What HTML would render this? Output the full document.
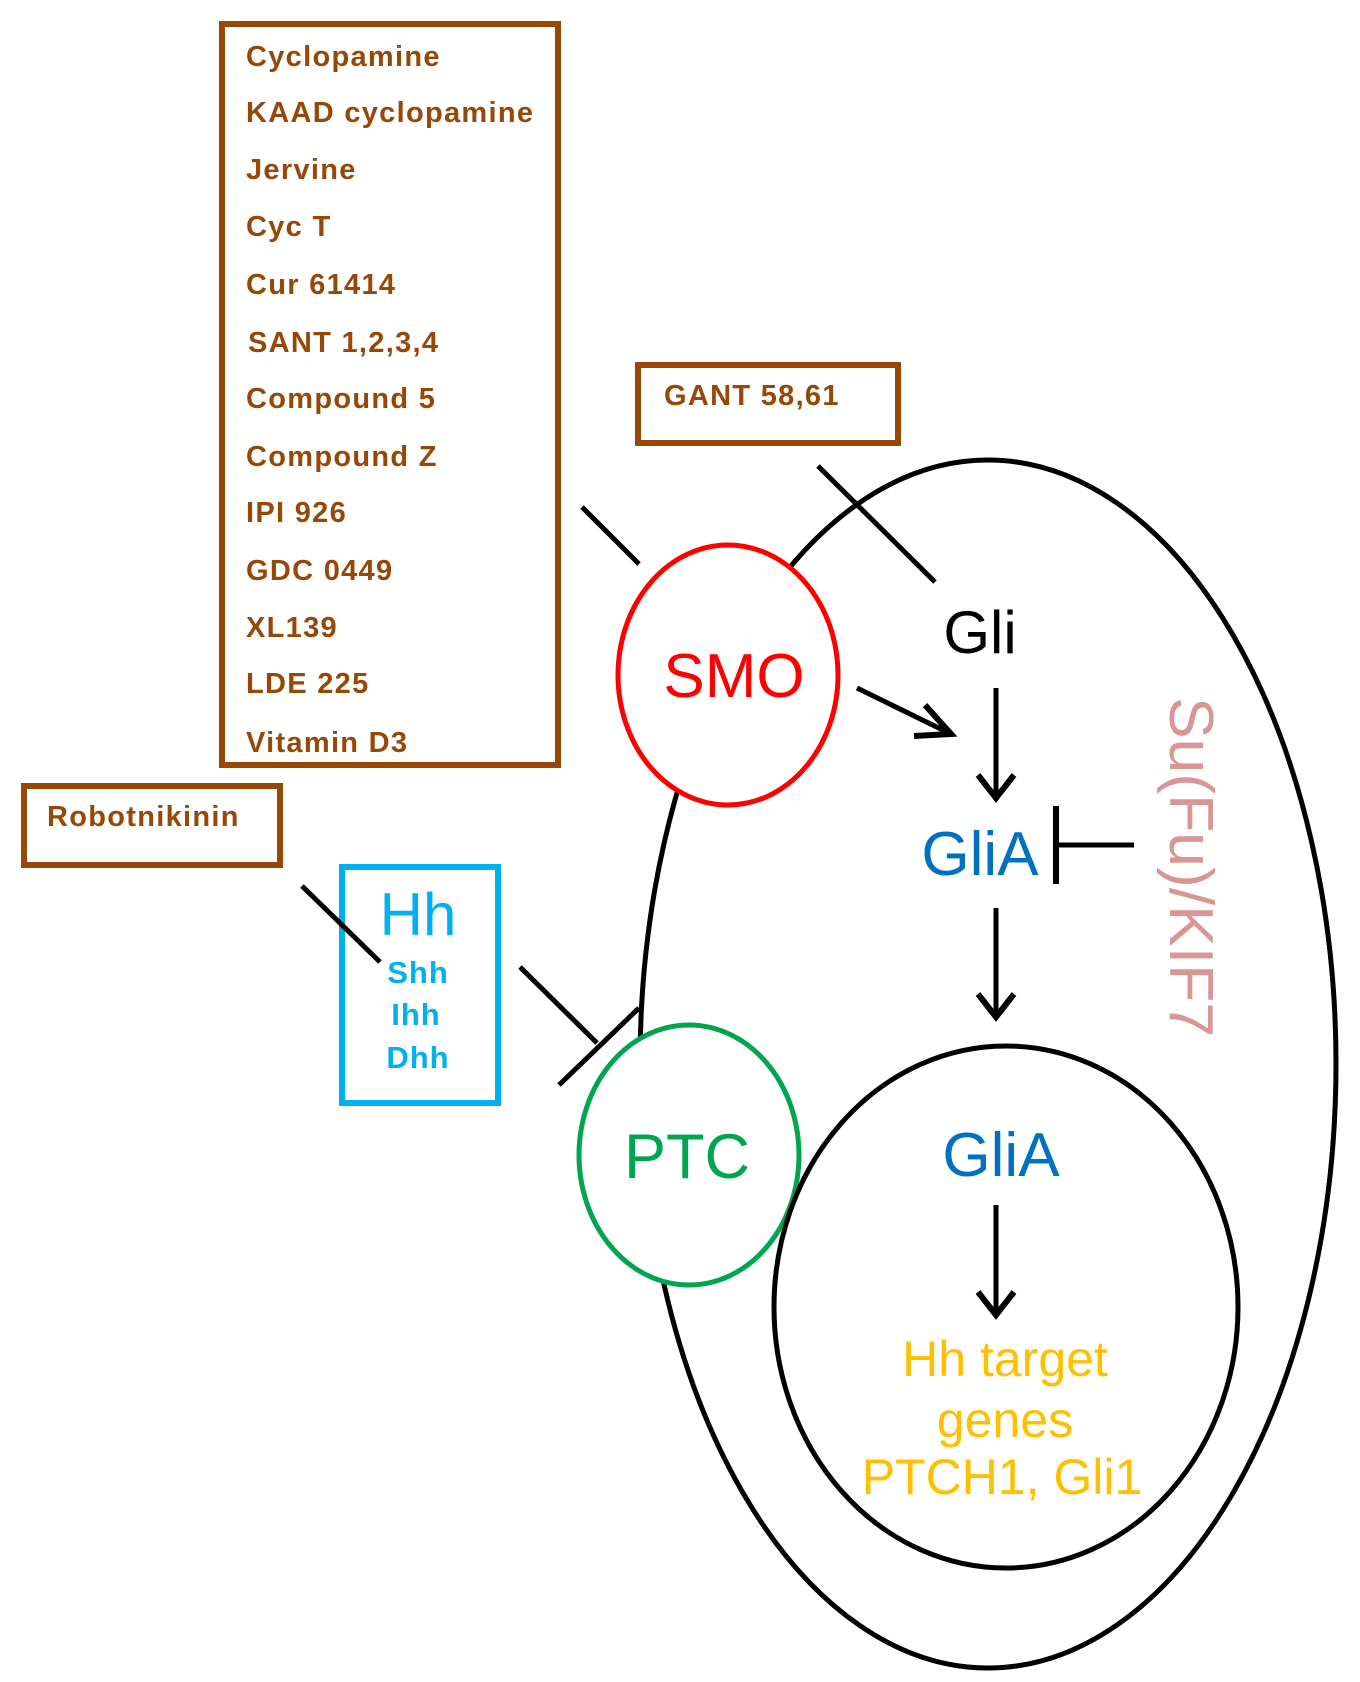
<!DOCTYPE html>
<html><head><meta charset="utf-8"><style>
html,body{margin:0;padding:0;background:#fff}
svg{display:block}
.b{font-family:"Liberation Sans",sans-serif;font-weight:bold;fill:#974806;font-size:29px;letter-spacing:1.3px}
.s{font-family:"Liberation Sans",sans-serif}
</style></head><body>
<svg width="1360" height="1682" viewBox="0 0 1360 1682" xmlns="http://www.w3.org/2000/svg">
<ellipse cx="988" cy="1064" rx="348" ry="604" fill="none" stroke="#000" stroke-width="5"/>
<ellipse cx="728" cy="675" rx="110" ry="130" fill="#fff" stroke="#f00" stroke-width="5"/>
<text x="734" y="697" class="s" font-size="62" fill="#f00" text-anchor="middle">SMO</text>
<ellipse cx="689" cy="1155" rx="110" ry="130" fill="#fff" stroke="#00a550" stroke-width="5"/>
<text x="687" y="1178" class="s" font-size="63" fill="#00a550" text-anchor="middle">PTC</text>
<ellipse cx="1006" cy="1307" rx="232" ry="261" fill="none" stroke="#000" stroke-width="5"/>
<rect x="222" y="24" width="336" height="741" fill="none" stroke="#974806" stroke-width="6"/>
<g class="b">
<text x="246" y="66">Cyclopamine</text>
<text x="246" y="122">KAAD cyclopamine</text>
<text x="246" y="179">Jervine</text>
<text x="246" y="236">Cyc T</text>
<text x="246" y="294">Cur 61414</text>
<text x="248" y="352">SANT 1,2,3,4</text>
<text x="246" y="408">Compound  5</text>
<text x="246" y="466">Compound  Z</text>
<text x="246" y="522">IPI 926</text>
<text x="246" y="580">GDC 0449</text>
<text x="246" y="637">XL139</text>
<text x="246" y="693">LDE 225</text>
<text x="246" y="752">Vitamin D3</text>
</g>
<rect x="638" y="365" width="260" height="78" fill="none" stroke="#974806" stroke-width="6"/>
<text x="664" y="405" class="b">GANT  58,61</text>
<rect x="24" y="786" width="256" height="79" fill="none" stroke="#974806" stroke-width="6"/>
<text x="47" y="826" class="b">Robotnikinin</text>
<rect x="342" y="867" width="156" height="236" fill="none" stroke="#00b0f0" stroke-width="6"/>
<text x="418" y="935" class="s" font-size="60" fill="#00b0f0" text-anchor="middle">Hh</text>
<g class="s" font-weight="bold" font-size="31" fill="#00b0f0" text-anchor="middle" letter-spacing="1">
<text x="418" y="983">Shh</text>
<text x="416" y="1025">Ihh</text>
<text x="418" y="1068">Dhh</text>
</g>
<g stroke="#000" stroke-width="5" fill="none">
<line x1="582" y1="507" x2="639" y2="564"/>
<line x1="818" y1="466" x2="935" y2="582"/>
<line x1="302" y1="886" x2="380" y2="962"/>
<line x1="520" y1="967" x2="597" y2="1043"/>
<line x1="559" y1="1085" x2="639" y2="1008"/>
<line x1="857" y1="688" x2="951" y2="734"/>
<polyline points="925,705 951,734 914,736" stroke-width="6"/>
<line x1="996" y1="688" x2="996" y2="798"/>
<polyline points="978,775 996,798 1014,775" stroke-width="6"/>
<line x1="996" y1="908" x2="996" y2="1017"/>
<polyline points="978,994 996,1017 1014,994" stroke-width="6"/>
<line x1="996" y1="1205" x2="996" y2="1315"/>
<polyline points="978,1292 996,1315 1014,1292" stroke-width="6"/>
<line x1="1056" y1="806" x2="1056" y2="884" stroke-width="6"/>
<line x1="1056" y1="845" x2="1134" y2="845"/>
</g>
<text x="980" y="653" class="s" font-size="60" fill="#000" text-anchor="middle">Gli</text>
<text x="980" y="875" class="s" font-size="62" fill="#0070c0" text-anchor="middle">GliA</text>
<text x="1001" y="1176" class="s" font-size="62" fill="#0070c0" text-anchor="middle">GliA</text>
<text transform="translate(1170,867) rotate(90)" class="s" font-size="62" fill="#d99694" text-anchor="middle" textLength="340" lengthAdjust="spacingAndGlyphs">Su(Fu)/KIF7</text>
<g class="s" font-size="50" fill="#ffc000" text-anchor="middle">
<text x="1005" y="1376">Hh target</text>
<text x="1005" y="1437">genes</text>
<text x="1002" y="1494">PTCH1, Gli1</text>
</g>
</svg>
</body></html>
